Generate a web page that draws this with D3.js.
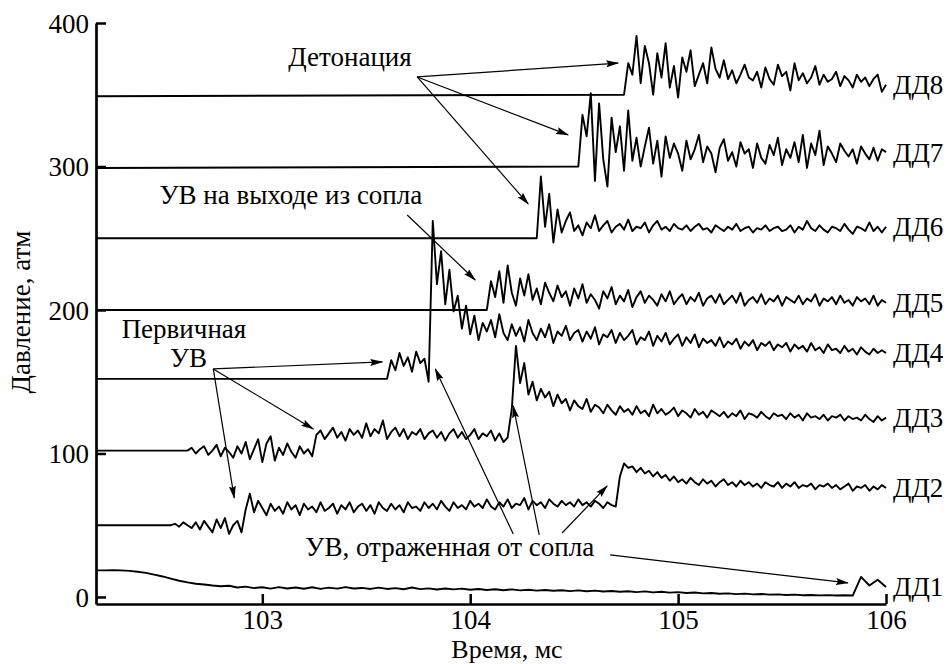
<!DOCTYPE html>
<html>
<head>
<meta charset="utf-8">
<script src="https://cdn.jsdelivr.net/npm/d3@7"></script>
<style>
  body { margin: 0; background: #fff; }
  svg text { font-family: "Liberation Serif", "Times New Roman", serif; fill: #000; }
</style>
</head>
<body>
<div id="chart"></div>
<script>
// sensor names and levels before the signal starts
const seriesNames = ["ДД1", "ДД2", "ДД3", "ДД4", "ДД5", "ДД6", "ДД7", "ДД8"];
const baseLevels = [18.5, 50, 102, 152, 200, 250, 299, 349];
// first sample time (ms) and sampling step of each recorded trace
const sampleStart = [102.2, 102.56, 102.64, 103.60, 104.08, 104.32, 104.52, 104.74];
const sampleStep = [0.04, 0.02, 0.02, 0.02, 0.02, 0.02, 0.02, 0.02];

const xTicks = [103, 104, 105, 106];
const yTicks = [0, 100, 200, 300, 400];

// pressure, atm
const dd1 = [18.5, 18.5, 18.6, 18.5, 18.2, 17.6, 16.8, 15.6, 14.3, 12.8, 11.3, 10.2, 9.2, 8.7, 8.0, 7.5, 7.8, 6.6, 7.2, 6.2,
  6.8, 5.8, 6.9, 5.9, 6.6, 5.7, 6.8, 5.6, 6.5, 5.8, 6.9, 5.9, 6.3, 5.6, 6.5, 5.6, 6.2, 5.4, 6.6, 5.5,
  6.0, 5.2, 5.9, 5.3, 5.8, 5.0, 5.6, 4.9, 5.4, 4.7, 5.3, 4.6, 5.0, 4.4, 4.9, 4.3, 4.7, 4.1, 4.6, 4.0,
  4.4, 3.8, 4.2, 3.6, 4.0, 3.4, 3.9, 3.2, 3.6, 3.0, 3.4, 2.8, 3.1, 2.5, 2.8, 2.2, 2.5, 2.0, 2.3, 1.8,
  2.1, 1.6, 1.8, 1.4, 1.6, 1.2, 1.4, 1.1, 1.3, 1.0, 1.2, 1.0, 14, 8, 12, 7];

const dd2 = [50, 51, 49, 52, 50, 48, 52, 47, 53, 49, 45, 54, 48, 55, 44, 50, 53, 45, 61, 72,
  59, 67, 62, 57, 65, 60, 63, 58, 66, 61, 64, 57, 65, 61, 63, 59, 66, 60, 62, 65,
  58, 64, 61, 66, 59, 63, 65, 60, 64, 58, 66, 62, 60, 65, 61, 64, 59, 66, 62, 63,
  60, 66, 62, 65, 61, 67, 63, 60, 66, 62, 64, 61, 67, 63, 65, 62, 68, 63, 61, 66,
  63, 68, 62, 65, 64, 69, 61, 67, 64, 66, 62, 68, 65, 63, 67, 64, 66, 63, 68, 64,
  66, 63, 67, 65, 62, 66, 64, 63, 84, 93, 90, 91, 87, 90, 86, 88, 84, 87, 83, 85,
  81, 84, 80, 82, 79, 83, 80, 78, 82, 79, 81, 77, 80, 82, 78, 80, 77, 81, 78, 80,
  77, 79, 76, 80, 78, 77, 80, 76, 79, 77, 80, 76, 78, 77, 79, 75, 78, 77, 79, 76,
  78, 75, 77, 79, 74, 77, 76, 78, 74, 77, 75, 78, 76];

const dd3 = [102, 104, 100, 103, 105, 99, 102, 106, 98, 104, 101, 97, 105, 100, 108, 96, 103, 110, 94, 107,
  112, 95, 104, 99, 107, 101, 97, 105, 100, 103, 98, 113, 116, 110, 114, 118, 111, 115, 109, 117,
  113, 116, 111, 121, 112, 117, 114, 123, 110, 115, 118, 112, 117, 110, 115, 113, 117, 110, 114, 116,
  111, 115, 109, 114, 117, 111, 115, 110, 113, 117, 110, 114, 112, 116, 109, 114, 108, 111, 131, 175,
  149, 163, 141, 150, 137, 145, 139, 143, 133, 141, 135, 138, 130, 137, 133, 131, 138, 129, 134, 132,
  128, 134, 130, 127, 133, 129, 131, 127, 133, 128, 130, 126, 134, 128, 131, 127, 129, 132, 126, 130,
  128, 125, 131, 127, 129, 125, 130, 128, 126, 129, 125, 128, 126, 130, 124, 128, 127, 125, 129, 126,
  124, 128, 126, 127, 124, 128, 125, 127, 123, 128, 125, 126, 124, 127, 123, 126, 125, 127, 123, 126,
  124, 125, 123, 127, 124, 122, 126, 123, 125];

const dd4 = [152, 165, 158, 170, 161, 167, 157, 171, 163, 166, 150, 262, 218, 241, 204, 228, 199, 210, 187, 203,
  183, 196, 179, 191, 185, 193, 181, 197, 184, 179, 190, 182, 188, 178, 193, 184, 179, 187, 181, 190,
  177, 185, 182, 189, 179, 184, 186, 178, 185, 180, 188, 176, 183, 181, 186, 177, 184, 179, 182, 186,
  176, 181, 179, 185, 175, 182, 178, 184, 176, 180, 183, 175, 181, 177, 183, 174, 180, 177, 179, 175,
  181, 174, 178, 176, 180, 173, 178, 175, 179, 172, 177, 175, 178, 172, 176, 174, 177, 171, 176, 173,
  175, 171, 177, 172, 174, 170, 176, 172, 173, 170, 175, 171, 173, 169, 174, 171, 169, 173, 170, 172, 170];

const dd5 = [200, 220, 209, 227, 205, 231, 212, 203, 222, 210, 225, 207, 215, 204, 219, 212, 206, 217, 209, 213,
  203, 215, 208, 218, 205, 211, 207, 201, 213, 208, 216, 204, 210, 206, 214, 202, 209, 213, 205, 210,
  207, 203, 211, 206, 213, 204, 208, 211, 204, 209, 206, 212, 203, 208, 210, 205, 211, 204, 207, 210,
  205, 212, 203, 207, 209, 205, 211, 204, 208, 206, 210, 203, 209, 207, 205, 210, 204, 208, 206, 211,
  203, 208, 206, 209, 204, 210, 205, 207, 203, 209, 206, 208, 204, 210, 203, 207, 205];

const dd6 = [250, 293, 258, 281, 247, 270, 254, 262, 268, 255, 259, 252, 261, 257, 266, 255, 259, 262, 254, 258,
  260, 256, 263, 255, 258, 257, 261, 254, 259, 262, 256, 258, 255, 260, 257, 256, 259, 255, 258, 260,
  256, 257, 254, 259, 257, 255, 258, 256, 260, 255, 257, 258, 254, 257, 256, 259, 255, 257, 258, 255,
  256, 259, 254, 258, 256, 262, 257, 255, 259, 256, 254, 258, 257, 255, 260, 256, 253, 258, 257, 255,
  261, 255, 258, 254, 258];

const dd7 = [300, 336, 321, 351, 290, 344, 305, 286, 334, 310, 328, 297, 339, 304, 320, 300, 314, 327, 302, 318,
  293, 321, 306, 316, 309, 297, 318, 305, 312, 322, 303, 314, 309, 296, 313, 319, 304, 310, 300, 317,
  309, 312, 299, 316, 306, 302, 315, 308, 320, 301, 312, 306, 317, 303, 322, 299, 316, 308, 325, 301,
  314, 309, 303, 316, 311, 307, 312, 302, 314, 309, 305, 313, 304, 312, 310];

const dd8 = [350, 372, 364, 391, 358, 384, 372, 350, 379, 362, 386, 355, 370, 348, 376, 366, 381, 356, 364, 372,
  358, 383, 368, 362, 374, 361, 367, 358, 364, 371, 362, 360, 366, 355, 369, 361, 357, 371, 363, 366,
  353, 372, 360, 365, 358, 362, 370, 357, 364, 359, 361, 366, 356, 363, 360, 355, 364, 359, 362, 356,
  361, 364, 352, 357];

const seriesValues = [dd1, dd2, dd3, dd4, dd5, dd6, dd7, dd8];

const width = 947;
const height = 664;
const fontSize = 27;

const x = d3.scaleLinear().domain([102.2, 106]).range([96, 886]);
const y = d3.scaleLinear().domain([-4.9, 400]).range([604, 23]);

const svg = d3.select("#chart").append("svg")
  .attr("width", width)
  .attr("height", height);

svg.append("defs").append("marker")
  .attr("id", "arrow")
  .attr("markerUnits", "userSpaceOnUse")
  .attr("viewBox", "0 0 13 7")
  .attr("markerWidth", 13)
  .attr("markerHeight", 7)
  .attr("refX", 12)
  .attr("refY", 3.5)
  .attr("orient", "auto")
  .append("path")
  .attr("d", "M0,0 L13,3.5 L0,7 L2,3.5 Z")
  .attr("fill", "#000");

// traces
const line = d3.line().x(d => x(d[0])).y(d => y(d[1]));

seriesValues.forEach((vals, k) => {
  const pts = [[102.2, baseLevels[k]]];
  vals.forEach((v, i) => pts.push([sampleStart[k] + i * sampleStep[k], v]));
  svg.append("path")
    .datum(pts)
    .attr("d", line)
    .attr("fill", "none")
    .attr("stroke", "#000")
    .attr("stroke-width", 1.9)
    .attr("stroke-linejoin", "round");

  svg.append("text")
    .attr("x", 893)
    .attr("y", y(vals[vals.length - 1]))
    .attr("dy", "0.35em")
    .style("font-size", fontSize + "px")
    .text(seriesNames[k]);
});

// axes
const yAxis = svg.append("g")
  .attr("transform", `translate(${x(102.2)},0)`)
  .call(d3.axisLeft(y).tickValues(yTicks).tickFormat(d3.format("d"))
    .tickSizeInner(-10).tickSizeOuter(0));
const xAxis = svg.append("g")
  .attr("transform", `translate(0,${y(-4.9)})`)
  .call(d3.axisBottom(x).tickValues(xTicks).tickFormat(d3.format("d"))
    .tickSizeInner(-10).tickSizeOuter(0));

[yAxis, xAxis].forEach(g => {
  g.attr("font-family", null).attr("font-size", null);
  g.selectAll("path.domain").attr("stroke-width", 2.7);
  g.selectAll(".tick line").attr("stroke-width", 2.5);
  g.selectAll(".tick text").style("font-size", fontSize + "px");
});
yAxis.selectAll(".tick text").attr("x", -7).attr("dy", "0.35em");
xAxis.selectAll(".tick text").attr("y", 25).attr("dy", 0);

svg.append("text")
  .attr("transform", "translate(30,312) rotate(-90)")
  .attr("text-anchor", "middle")
  .style("font-size", fontSize + "px")
  .text("Давление, атм");

svg.append("text")
  .attr("x", 507)
  .attr("y", 658)
  .attr("text-anchor", "middle")
  .style("font-size", "26px")
  .text("Время, мс");

// annotations (data coordinates)
const notes = [
  { text: "Детонация", t: 103.125, p: 370, anchor: "start" },
  { text: "УВ на выходе из сопла", t: 102.505, p: 274, anchor: "start" },
  { text: "Первичная", t: 102.623, p: 180.5, anchor: "middle" },
  { text: "УВ", t: 102.645, p: 160.3, anchor: "middle" },
  { text: "УВ, отраженная от сопла", t: 103.207, p: 28.6, anchor: "start" }
];

const arrows = [
  [103.745, 362.4, 104.712, 372.1],
  [103.745, 362.4, 104.471, 322],
  [103.745, 362.4, 104.279, 273.9],
  [103.697, 266.2, 104.024, 220.9],
  [102.764, 158.9, 103.577, 163.8],
  [102.764, 158.9, 103.245, 117.1],
  [102.764, 158.9, 102.865, 69.0],
  [104.207, 43.9, 103.832, 158.9],
  [104.332, 43.2, 104.207, 133.1],
  [104.442, 44.6, 104.659, 77.4],
  [104.673, 29.3, 105.817, 9.8]
];

svg.selectAll("text.note")
  .data(notes)
  .enter()
  .append("text")
  .attr("class", "note")
  .attr("x", d => x(d.t))
  .attr("y", d => y(d.p))
  .attr("text-anchor", d => d.anchor)
  .style("font-size", fontSize + "px")
  .text(d => d.text);

svg.selectAll("line.arrow")
  .data(arrows)
  .enter()
  .append("line")
  .attr("class", "arrow")
  .attr("x1", d => x(d[0]))
  .attr("y1", d => y(d[1]))
  .attr("x2", d => x(d[2]))
  .attr("y2", d => y(d[3]))
  .attr("stroke", "#000")
  .attr("stroke-width", 1.2)
  .attr("marker-end", "url(#arrow)");
</script>
</body>
</html>
